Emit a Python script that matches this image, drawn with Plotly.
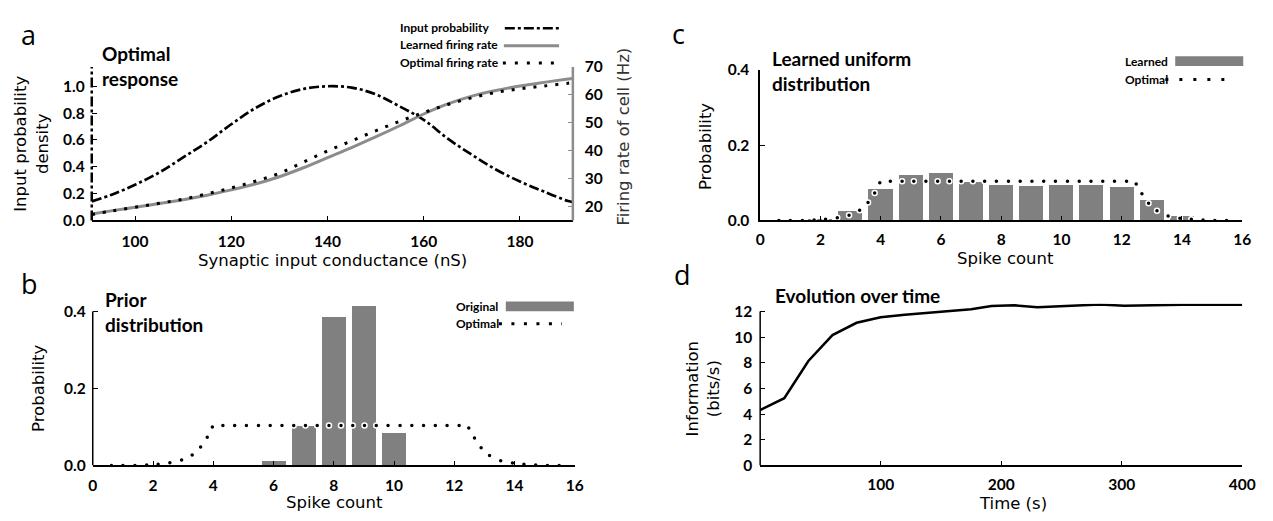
import plotly.graph_objects as go

W, H = 1273, 521

# ---------------- data ----------------
# panel a
conductance = [91, 95, 100, 105, 110, 115, 120, 125, 130, 135, 140, 145, 150, 155, 160, 165, 170, 175, 180, 185, 190, 191]
input_prob = [0.142, 0.19, 0.266, 0.357, 0.47, 0.585, 0.717, 0.837, 0.926, 0.98, 1.0, 0.99, 0.94, 0.85, 0.75, 0.61, 0.49, 0.38, 0.29, 0.215, 0.145, 0.137]
learned_rate = [17.5, 18.6, 19.9, 21.2, 22.6, 24.2, 26.1, 28.2, 30.8, 34.0, 37.6, 41.2, 45.0, 49.0, 53.2, 56.8, 59.6, 61.6, 63.2, 64.5, 65.7, 65.9]
optimal_rate = [17.3, 18.5, 19.9, 21.3, 22.8, 24.7, 26.8, 29.2, 32.0, 36.0, 40.0, 43.6, 47.2, 50.6, 53.7, 56.6, 59.0, 60.9, 62.2, 63.2, 64.2, 64.4]

# panels b, c
spike_counts = [1, 2, 3, 4, 5, 6, 7, 8, 9, 10, 11, 12, 13, 14, 15]
original_prob = [0, 0, 0, 0, 0.001, 0.011, 0.104, 0.387, 0.414, 0.084, 0.001, 0, 0, 0, 0]
learned_prob = [0, 0.002, 0.026, 0.084, 0.121, 0.126, 0.103, 0.094, 0.091, 0.094, 0.094, 0.089, 0.056, 0.013, 0]
optimal_x = [0.62, 1.0, 1.4, 1.79, 2.17, 2.56, 2.95, 3.3, 3.58, 3.8, 3.97,
             4.32, 4.71, 5.1, 5.5, 5.89, 6.28, 6.67, 7.06, 7.45, 7.84, 8.24,
             8.63, 9.02, 9.41, 9.8, 10.2, 10.59, 10.98, 11.37, 11.76, 12.16,
             12.48, 12.67, 12.89, 13.17, 13.54, 13.93, 14.31, 14.7, 15.09, 15.48]
optimal_prob = [0, 0, 0, 0.001, 0.003, 0.007, 0.014, 0.027, 0.048, 0.073, 0.1,
                0.104, 0.104, 0.104, 0.104, 0.104, 0.104, 0.104, 0.104, 0.104, 0.104, 0.104,
                0.104, 0.104, 0.104, 0.104, 0.104, 0.104, 0.104, 0.104, 0.104, 0.104,
                0.097, 0.071, 0.046, 0.026, 0.012, 0.006, 0.003, 0.001, 0, 0]

# panel d
time_s = [0, 20, 40, 60, 80, 100, 120, 140, 160, 175, 192, 211, 230, 255, 282, 302, 323, 350, 400]
info_bits = [4.31, 5.24, 8.14, 10.16, 11.12, 11.55, 11.75, 11.9, 12.05, 12.18, 12.43, 12.48, 12.33, 12.43, 12.55, 12.45, 12.5, 12.53, 12.53]

# tick labels
a_left_ticks = [0.0, 0.2, 0.4, 0.6, 0.8, 1.0]
a_right_ticks = [20, 30, 40, 50, 60, 70]
a_x_ticks = [100, 120, 140, 160, 180]
spike_ticks = [0, 2, 4, 6, 8, 10, 12, 14, 16]
prob_ticks = [0.0, 0.2, 0.4]
info_ticks = [0, 2, 4, 6, 8, 10, 12]
time_ticks = [100, 200, 300, 400]

# ---------------- helpers ----------------
def px(x):
    return x / W

def py(y):
    return 1 - y / H

def xd(a, b):
    return [px(a), px(b)]

def yd(top, bot):
    return [py(bot), py(top)]

GRAY_BAR = '#808080'
GRAY_LINE = '#8c8c8c'
TICKFONT = dict(family='Lato', size=15.5, color='black', weight='bold')
DASHDOT = '10px,3px,3px,3px'
AXFONT = 'DejaVu Sans'

fig = go.Figure()

# panel a
fig.add_trace(go.Scatter(x=conductance, y=input_prob, mode='lines', line=dict(color='black', width=2.7, dash=DASHDOT, shape='spline'), xaxis='x', yaxis='y', showlegend=False))
fig.add_trace(go.Scatter(x=conductance, y=learned_rate, mode='lines', line=dict(color=GRAY_LINE, width=3, shape='spline'), xaxis='x', yaxis='y2', showlegend=False))
fig.add_trace(go.Scatter(x=conductance, y=optimal_rate, mode='lines', line=dict(color='black', width=3, dash='3px,8px', shape='spline'), xaxis='x', yaxis='y2', showlegend=False))

# panel b
fig.add_trace(go.Bar(x=spike_counts, y=original_prob, width=0.8, marker=dict(color=GRAY_BAR, line=dict(width=0)), xaxis='x2', yaxis='y3', showlegend=False))
fig.add_trace(go.Scatter(x=optimal_x, y=optimal_prob, mode='markers', marker=dict(size=5, color='black', line=dict(color='white', width=1.5)), xaxis='x2', yaxis='y3', showlegend=False))

# panel c
fig.add_trace(go.Bar(x=spike_counts, y=learned_prob, width=0.8, marker=dict(color=GRAY_BAR, line=dict(width=0)), xaxis='x3', yaxis='y4', showlegend=False))
fig.add_trace(go.Scatter(x=optimal_x, y=optimal_prob, mode='markers', marker=dict(size=5, color='black', line=dict(color='white', width=1.5)), xaxis='x3', yaxis='y4', showlegend=False))

# panel d
fig.add_trace(go.Scatter(x=time_s, y=info_bits, mode='lines', line=dict(color='black', width=2.5), xaxis='x4', yaxis='y5', showlegend=False))

common = dict(showgrid=False, zeroline=False, ticks='inside', ticklen=5, tickwidth=1.2, tickcolor='black', tickfont=TICKFONT, fixedrange=True)

def fmt1(v):
    return '%.1f' % v

fig.update_layout(
    width=W, height=H, autosize=False,
    margin=dict(l=0, r=0, t=0, b=0),
    paper_bgcolor='white', plot_bgcolor='white',
    bargap=0,
    xaxis=dict(domain=xd(88, 576), range=[91, 191], anchor='y', tickvals=a_x_ticks, showline=True, linecolor='black', linewidth=1.5, ticklabelstandoff=6, **common),
    yaxis=dict(domain=yd(59, 218), range=[0, 1.144], anchor='x', tickvals=a_left_ticks, ticktext=[fmt1(v) for v in a_left_ticks], showline=False, ticklabelstandoff=6, **common),
    yaxis2=dict(range=[15.17, 70], overlaying='y', side='right', anchor='x', tickvals=a_right_ticks, showline=False, ticklabelstandoff=11, **{**common, 'tickcolor': GRAY_LINE}),
    xaxis2=dict(domain=xd(89, 578), range=[0, 16], anchor='y3', tickvals=spike_ticks, showline=True, linecolor='black', linewidth=1.5, ticklabelstandoff=5, **common),
    yaxis3=dict(domain=yd(304.3, 471.7), range=[0, 0.42], anchor='x2', tickvals=prob_ticks, ticktext=[fmt1(v) for v in prob_ticks], showline=False, ticklabelstandoff=6, **common),
    xaxis3=dict(domain=xd(766, 1255), range=[0, 16], anchor='y4', tickvals=spike_ticks, showline=True, linecolor='black', linewidth=1.5, ticklabelstandoff=4, **common),
    yaxis4=dict(domain=yd(62, 218), range=[0, 0.4], anchor='x3', tickvals=prob_ticks, ticktext=[fmt1(v) for v in prob_ticks], showline=True, linecolor='black', linewidth=1.5, ticklabelstandoff=6, **common),
    xaxis4=dict(domain=xd(766, 1255), range=[0, 400], anchor='y5', tickvals=time_ticks, showline=True, linecolor='black', linewidth=1.5, ticklabelstandoff=4, **common),
    yaxis5=dict(domain=yd(304.3, 471.7), range=[0, 12.6], anchor='x4', tickvals=info_ticks, showline=False, ticklabelstandoff=7, **common),
)

shapes = [
    # panel a axis lines
    dict(type='line', xref='x domain', yref='y domain', x0=0, x1=0, y0=0, y1=1, line=dict(color='black', width=2.5, dash=DASHDOT)),
    dict(type='line', xref='x domain', yref='y domain', x0=1, x1=1, y0=0, y1=1, line=dict(color=GRAY_LINE, width=2.5)),
    # panel b / d left axis lines limited to top tick
    dict(type='line', xref='x2 domain', yref='y3', x0=0, x1=0, y0=0, y1=0.4, line=dict(color='black', width=1.5)),
    dict(type='line', xref='x4 domain', yref='y5', x0=0, x1=0, y0=0, y1=12, line=dict(color='black', width=1.5)),
]

annotations = []

def text(x, y, s, size=16.5, family=AXFONT, weight='normal', color='black', xanchor='center', yanchor='middle', angle=0):
    annotations.append(dict(x=px(x), y=py(y), xref='paper', yref='paper', text=s, showarrow=False,
                            xanchor=xanchor, yanchor=yanchor, textangle=angle, align='left' if xanchor == 'left' else 'center',
                            font=dict(family=family, size=size, weight=weight, color=color)))

# panel letters
LET = dict(family='Open Sans', size=27)
text(14, 25, 'a', xanchor='left', **LET)
text(14, 283, 'b', xanchor='left', **LET)
text(675, 24, 'c', xanchor='left', **LET)
text(677, 274, 'd', xanchor='left', **LET)

# panel titles
TB = dict(family='Lato', size=19, weight='bold')
text(96, 58, 'Optimal<br>response', xanchor='left', **TB)
text(99, 313, 'Prior<br>distribution', xanchor='left', **TB)
text(776, 63, 'Learned uniform<br>distribution', xanchor='left', **TB)
text(779, 296, 'Evolution over time', xanchor='left', **TB)

# axis titles
text(332, 259, 'Synaptic input conductance (nS)')
text(27, 139, 'Input probability<br>density', angle=-90)
text(627, 131, 'Firing rate of cell (Hz)', color='#333333', angle=-90)
text(34, 392, 'Probability', angle=-90)
text(334, 510, 'Spike count')
text(710, 141, 'Probability', angle=-90)
text(1015, 257, 'Spike count')
text(708, 392, 'Information<br>(bits/s)', angle=-90)
text(1022, 511, 'Time (s)')

# legends
LB = dict(family='Lato', size=12, weight='bold')
text(399, 18, 'Input probability', xanchor='left', **LB)
text(399, 36, 'Learned firing rate', xanchor='left', **LB)
text(399, 54, 'Optimal firing rate', xanchor='left', **LB)
shapes.append(dict(type='line', xref='paper', yref='paper', x0=px(507), x1=px(562), y0=py(19), y1=py(19), line=dict(color='black', width=2.5, dash=DASHDOT)))
shapes.append(dict(type='line', xref='paper', yref='paper', x0=px(506), x1=px(562), y0=py(37), y1=py(37), line=dict(color=GRAY_LINE, width=3)))
shapes.append(dict(type='line', xref='paper', yref='paper', x0=px(505), x1=px(562), y0=py(55), y1=py(55), line=dict(color='black', width=3, dash='3px,9px')))

text(455, 307, 'Original', xanchor='left', **LB)
text(455, 325, 'Optimal', xanchor='left', **LB)
shapes.append(dict(type='rect', xref='paper', yref='paper', x0=px(508), x1=px(577), y0=py(312), y1=py(302), line=dict(width=0), fillcolor=GRAY_BAR))
shapes.append(dict(type='line', xref='paper', yref='paper', x0=px(501), x1=px(565), y0=py(325), y1=py(325), line=dict(color='black', width=3, dash='3px,9.5px')))

text(1134, 53, 'Learned', xanchor='left', **LB)
text(1134, 72, 'Optimal', xanchor='left', **LB)
shapes.append(dict(type='rect', xref='paper', yref='paper', x0=px(1187), x1=px(1256), y0=py(58), y1=py(48), line=dict(width=0), fillcolor=GRAY_BAR))
shapes.append(dict(type='line', xref='paper', yref='paper', x0=px(1177), x1=px(1246), y0=py(72), y1=py(72), line=dict(color='black', width=3, dash='3px,11px')))

fig.update_layout(shapes=shapes, annotations=annotations)

fig.write_html('out.html')
